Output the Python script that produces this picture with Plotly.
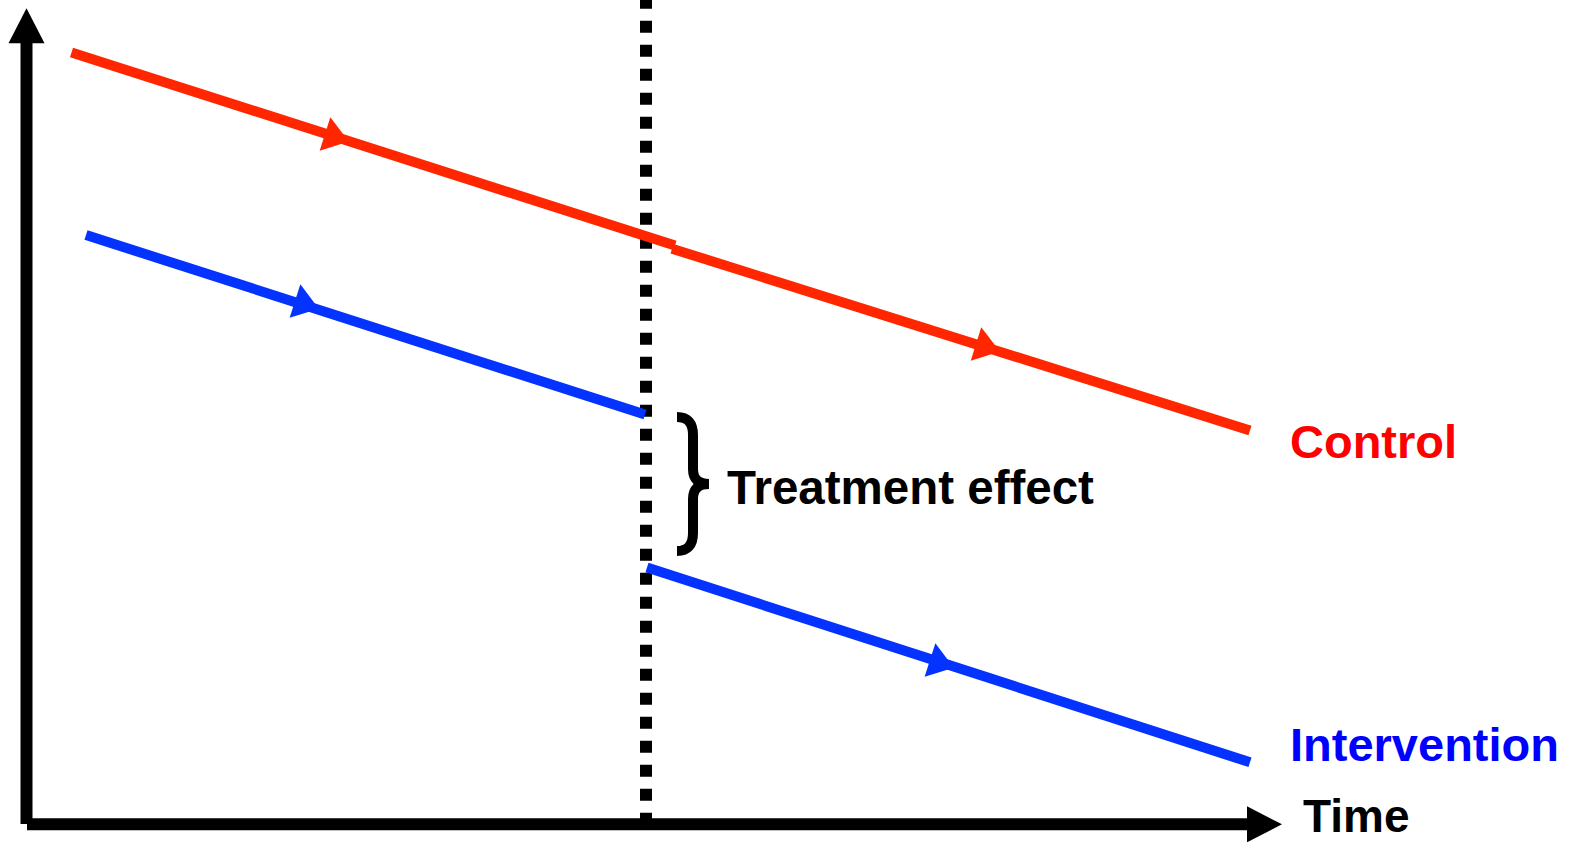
import math
import plotly.graph_objects as go

# ---------------- data (schematic units: time on x, outcome on y) ----------------
cutoff_time = 646

control_pre_time = [71.5, 675]
control_pre_value = [789.5, 596.5]
control_post_time = [672, 1250]
control_post_value = [593.3, 411.6]

intervention_pre_time = [86, 645]
intervention_pre_value = [607, 427.5]
intervention_post_time = [647, 1250]
intervention_post_value = [274.5, 79.7]

# positions of the direction arrows (base centre) along each segment
control_arrow_time = [325, 976]
control_arrow_value = [708, 498]
intervention_arrow_time = [295, 930]
intervention_arrow_value = [541, 182]

series_labels = ["Control", "Intervention"]
label_time = 1288
label_value = [401, 98]

effect_label = "Treatment effect"
axis_label = "Time"

# axes geometry (schematic units)
origin_time = 26.5
origin_value = 17.7
yaxis_tip_value = 833.7
xaxis_tip_time = 1282

# styles
AXIS_HEAD_LEN = 35
AXIS_HEAD_HALF = 18
ARROW_LEN = 25
ARROW_HALF = 17.5
RED = "#FF2600"
BLUE = "#0433FF"
FONT = "Liberation Sans, Arial, sans-serif"

fig = go.Figure()
shapes = []


def tri_path(tip, b1, b2):
    return f"M {tip[0]},{tip[1]} L {b1[0]},{b1[1]} L {b2[0]},{b2[1]} Z"


# ---------------- axes ----------------
fig.add_trace(go.Scatter(x=[origin_time, origin_time],
                         y=[origin_value + 0.3, yaxis_tip_value - AXIS_HEAD_LEN + 1],
                         mode="lines", line=dict(color="black", width=12),
                         hoverinfo="skip"))
fig.add_trace(go.Scatter(x=[origin_time + 0.5, xaxis_tip_time - AXIS_HEAD_LEN + 1],
                         y=[origin_value, origin_value],
                         mode="lines", line=dict(color="black", width=12),
                         hoverinfo="skip"))
yb = yaxis_tip_value - AXIS_HEAD_LEN
shapes.append(dict(type="path", xref="x", yref="y",
                   path=tri_path((origin_time, yaxis_tip_value),
                                 (origin_time - AXIS_HEAD_HALF, yb),
                                 (origin_time + AXIS_HEAD_HALF, yb)),
                   fillcolor="black", line=dict(width=0)))
xb = xaxis_tip_time - AXIS_HEAD_LEN
shapes.append(dict(type="path", xref="x", yref="y",
                   path=tri_path((xaxis_tip_time, origin_value),
                                 (xb, origin_value + AXIS_HEAD_HALF),
                                 (xb, origin_value - AXIS_HEAD_HALF)),
                   fillcolor="black", line=dict(width=0)))

# ---------------- dotted cutoff line ----------------
fig.add_trace(go.Scatter(x=[cutoff_time, cutoff_time],
                         y=[845.3, origin_value - 0.3],
                         mode="lines",
                         line=dict(color="black", width=12, dash="12px,12px"),
                         hoverinfo="skip"))


# ---------------- series lines ----------------
def seg(t, v, color):
    fig.add_trace(go.Scatter(x=t, y=v, mode="lines",
                             line=dict(color=color, width=10),
                             hoverinfo="skip"))


seg(control_pre_time, control_pre_value, RED)
seg(control_post_time, control_post_value, RED)
seg(intervention_pre_time, intervention_pre_value, BLUE)
seg(intervention_post_time, intervention_post_value, BLUE)


# ---------------- direction arrows along lines ----------------
def arrow(t, v, at, av, color):
    dx, dy = t[1] - t[0], v[1] - v[0]
    ln = math.hypot(dx, dy)
    ux, uy = dx / ln, dy / ln
    nx, ny = -uy, ux
    tip = (at + ux * ARROW_LEN, av + uy * ARROW_LEN)
    b1 = (at + nx * ARROW_HALF, av + ny * ARROW_HALF)
    b2 = (at - nx * ARROW_HALF, av - ny * ARROW_HALF)
    shapes.append(dict(type="path", xref="x", yref="y",
                       path=tri_path(tip, b1, b2),
                       fillcolor=color, line=dict(width=0)))


arrow(control_pre_time, control_pre_value,
      control_arrow_time[0], control_arrow_value[0], RED)
arrow(control_post_time, control_post_value,
      control_arrow_time[1], control_arrow_value[1], RED)
arrow(intervention_pre_time, intervention_pre_value,
      intervention_arrow_time[0], intervention_arrow_value[0], BLUE)
arrow(intervention_post_time, intervention_post_value,
      intervention_arrow_time[1], intervention_arrow_value[1], BLUE)

annotations = []
label_colors = ["#FF0000", "#0000FF"]
for lab, val, col in zip(series_labels, label_value, label_colors):
    annotations.append(dict(x=label_time, y=val, xref="x", yref="y",
                            text="<b>%s</b>" % lab, showarrow=False,
                            xanchor="left", yanchor="middle",
                            font=dict(family=FONT, size=47, color=col)))

brace_top = intervention_pre_value[1] - 2.5
brace_bot = intervention_post_value[0] + 16.5
brace_mid = (brace_top + brace_bot) / 2
annotations.append(dict(x=cutoff_time + 79, y=brace_mid - 3.5, xref="x", yref="y",
                        text="<b>%s</b>" % effect_label, showarrow=False,
                        xanchor="left", yanchor="middle",
                        font=dict(family=FONT, size=47.5, color="black")))
annotations.append(dict(x=1301, y=origin_value + 8, xref="x", yref="y",
                        text="<b>%s</b>" % axis_label, showarrow=False,
                        xanchor="left", yanchor="middle",
                        font=dict(family=FONT, size=46, color="black")))

# brace path built from the gap between the intervention segments
xl = cutoff_time + 31
xs = cutoff_time + 47
xt = cutoff_time + 63
brace_path = (
    f"M {xl},{brace_top} Q {xs},{brace_top} {xs},{brace_top - 18} "
    f"L {xs},{brace_mid + 15} Q {xs},{brace_mid} {xt},{brace_mid} "
    f"Q {xs},{brace_mid} {xs},{brace_mid - 15} "
    f"L {xs},{brace_bot + 18} Q {xs},{brace_bot} {xl},{brace_bot}"
)
shapes.append(dict(type="path", path=brace_path, xref="x", yref="y",
                   line=dict(color="black", width=10)))

fig.update_layout(
    width=1577, height=842,
    margin=dict(l=0, r=0, t=0, b=0),
    paper_bgcolor="white", plot_bgcolor="white",
    showlegend=False,
    xaxis=dict(range=[0, 1577], visible=False, fixedrange=True),
    yaxis=dict(range=[0, 842], visible=False, fixedrange=True),
    annotations=annotations,
    shapes=shapes,
)

fig.write_html("out.html", config={"displayModeBar": False},
               post_script="document.body.style.margin='0';")
